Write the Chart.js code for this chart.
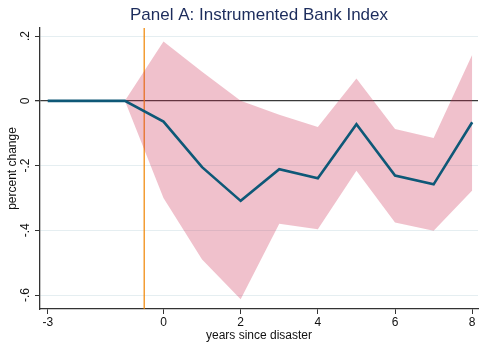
<!DOCTYPE html>
<html>
<head>
<meta charset="utf-8">
<script src="https://cdn.jsdelivr.net/npm/chart.js@4/dist/chart.umd.min.js"></script>
<style>
html,body{margin:0;padding:0;background:#fff;}
#wrap{width:480px;height:343px;position:relative;}
</style>
</head>
<body>
<div id="wrap"><canvas id="c" width="480" height="343"></canvas></div>
<script>
// ---- data ----
const titleText = 'Panel A: Instrumented Bank Index';
const years = [-3, -2, -1, 0, 1, 2, 3, 4, 5, 6, 7, 8];
const estimate = [0, 0, 0, -0.064, -0.205, -0.309, -0.211, -0.239, -0.072, -0.231, -0.258, -0.066];
const bandYears = [-1, 0, 1, 2, 3, 4, 5, 6, 7, 8];
const upperCI = [0, 0.183, 0.09, 0.0, -0.043, -0.081, 0.069, -0.087, -0.115, 0.142];
const lowerCI = [0, -0.30, -0.49, -0.613, -0.38, -0.397, -0.216, -0.376, -0.401, -0.277];
const eventYear = -0.5;
const xTicks = [-3, 0, 2, 4, 6, 8];
const yTicks = [-0.6, -0.4, -0.2, 0, 0.2];
const yTickLabels = ['-.6', '-.4', '-.2', '0', '.2'];
const xRange = [-3.2, 8.15];
const yRange = [-0.643, 0.225];

const FONT = 'Arial, "Liberation Sans", Helvetica, sans-serif';

const titlePlugin = {
  id: 'panelTitle',
  afterDraw(chart) {
    const {ctx, chartArea} = chart;
    ctx.save();
    ctx.font = '17px ' + FONT;
    ctx.fillStyle = '#1c2c5c';
    ctx.textAlign = 'center';
    ctx.textBaseline = 'middle';
    ctx.fillText(titleText, (chartArea.left + chartArea.right) / 2, 15);
    ctx.restore();
  }
};

new Chart(document.getElementById('c'), {
  type: 'line',
  data: {
    datasets: [
      {
        label: 'estimate',
        data: years.map((x, i) => ({x, y: estimate[i]})),
        borderColor: '#0e5877',
        borderWidth: 2.6,
        pointRadius: 0,
        fill: false,
        order: 0
      },
      {
        label: 'upper',
        data: bandYears.map((x, i) => ({x, y: upperCI[i]})),
        borderWidth: 0,
        borderColor: 'rgba(0,0,0,0)',
        backgroundColor: 'rgba(205,40,80,0.29)',
        pointRadius: 0,
        fill: '+1',
        order: 1
      },
      {
        label: 'lower',
        data: bandYears.map((x, i) => ({x, y: lowerCI[i]})),
        borderWidth: 0,
        borderColor: 'rgba(0,0,0,0)',
        pointRadius: 0,
        fill: false,
        order: 2
      },
      {
        label: 'event',
        data: [{x: eventYear, y: yRange[0]}, {x: eventYear, y: yRange[1]}],
        borderColor: '#f08400',
        borderWidth: 1.2,
        pointRadius: 0,
        fill: false,
        order: 3
      }
    ]
  },
  options: {
    responsive: false,
    animation: false,
    events: [],
    layout: {padding: {top: 28, right: 2, left: 0, bottom: 0}},
    plugins: {
      legend: {display: false},
      tooltip: {enabled: false},
      title: {display: false},
      filler: {drawTime: 'beforeDatasetDraw'}
    },
    scales: {
      x: {
        type: 'linear',
        min: xRange[0],
        max: xRange[1],
        afterBuildTicks: (s) => { s.ticks = xTicks.map(v => ({value: v})); },
        afterFit: (s) => { s.height = 34; },
        border: {display: true, color: '#333', width: 1.3},
        grid: {display: true, drawOnChartArea: false, drawTicks: true, tickLength: 5, tickColor: '#333'},
        ticks: {
          color: '#111',
          font: {family: FONT, size: 12},
          padding: 1,
          maxRotation: 0,
          autoSkip: false,
          callback: (v) => String(v)
        },
        title: {
          display: true,
          text: 'years since disaster',
          color: '#111',
          font: {family: FONT, size: 12},
          padding: {top: 0, bottom: 0}
        }
      },
      y: {
        type: 'linear',
        min: yRange[0],
        max: yRange[1],
        afterBuildTicks: (s) => { s.ticks = yTicks.map(v => ({value: v})); },
        afterFit: (s) => { s.width = 40; },
        border: {display: true, color: '#333', width: 1.3},
        grid: {
          display: true,
          drawTicks: true,
          tickLength: 5,
          tickColor: '#333',
          lineWidth: (c) => (c.tick && c.tick.value === 0 ? 1.3 : 1),
          color: (c) => (c.tick && c.tick.value === 0 ? '#3a3a3a' : '#e5eef1')
        },
        ticks: {
          color: '#111',
          font: {family: FONT, size: 12},
          padding: 2,
          minRotation: 90,
          maxRotation: 90,
          crossAlign: 'center',
          autoSkip: false,
          callback: (v) => {
            const i = yTicks.findIndex(t => Math.abs(t - v) < 1e-9);
            return i >= 0 ? yTickLabels[i] : '';
          }
        },
        title: {
          display: true,
          text: 'percent change',
          color: '#111',
          font: {family: FONT, size: 12},
          padding: {top: 5, bottom: 0}
        }
      }
    }
  },
  plugins: [titlePlugin]
});
</script>
</body>
</html>
